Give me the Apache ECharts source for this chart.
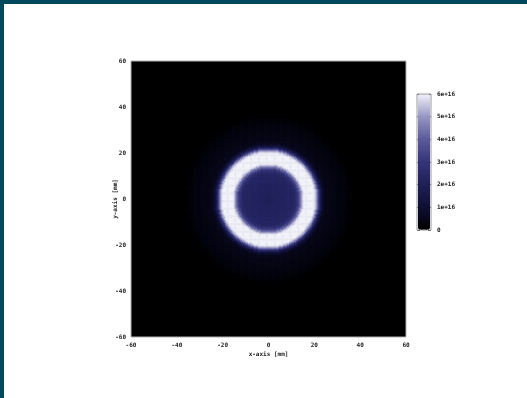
<!DOCTYPE html>
<html>
<head>
<meta charset="utf-8">
<script src="https://cdn.jsdelivr.net/npm/echarts@6/dist/echarts.min.js"></script>
<style>
html,body{margin:0;padding:0;background:#fff;}
#c{width:527px;height:398px;}
</style>
</head>
<body>
<div id="c"></div>
<script>
const profileStep = 0.5;
const radialProfile = [
  2.1, 2.1, 2.1, 2.1, 2.1, 2.15, 2.15, 2.2, 2.2, 2.2,
  2.2, 2.2, 2.2, 2.25, 2.25, 2.25, 2.3, 2.3, 2.3, 2.3,
  2.35, 2.35, 2.4, 2.45, 2.6, 2.8, 3.1, 3.6, 4.2, 4.9,
  5.5, 5.9, 6.2, 6.4, 6.5, 6.5, 6.5, 6.5, 6.4, 6.3,
  6.1, 5.8, 5.3, 4.5, 3.5, 2.5, 1.7, 1.2, 0.85, 0.65,
  0.55, 0.5, 0.5, 0.48, 0.45, 0.45, 0.44, 0.42, 0.4, 0.4,
  0.38, 0.36, 0.35, 0.33, 0.3, 0.3, 0.28, 0.26, 0.24, 0.2,
  0.17, 0.13, 0.1, 0.07, 0.05, 0.03, 0.02
];
const xTicks = [-60, -40, -20, 0, 20, 40, 60];
const yTicks = [-60, -40, -20, 0, 20, 40, 60];
const cbTicks = ['0', '1e+16', '2e+16', '3e+16', '4e+16', '5e+16', '6e+16'];
const cbColors = ['#000000', '#0f0f33', '#1f1f58', '#34347a', '#5a5a9c', '#9696c4', '#f2f2fa'];
const cellSize = 0.5; // mm
const range = 60;

// Build heatmap cells from the radial profile (nearest radius bin)
const cells = [];
const n = Math.round(2 * range / cellSize);
for (let i = 0; i < n; i++) {
  const x = -range + i * cellSize;
  for (let j = 0; j < n; j++) {
    const y = -range + j * cellSize;
    const cx = x + cellSize / 2, cy = y + cellSize / 2;
    const idx = Math.round(Math.sqrt(cx * cx + cy * cy) / profileStep);
    const v = idx < radialProfile.length ? radialProfile[idx] * 1e16 : 0;
    if (v > 0) cells.push([x, y, v]);
  }
}

const font = 'DejaVu Sans Mono';
const lab = {fontFamily: font, fontSize: 6, fontWeight: 'bold', color: '#222'};

const chart = echarts.init(document.getElementById('c'), null, {renderer: 'canvas'});
chart.setOption({
  backgroundColor: '#ffffff',
  animation: false,
  graphic: [
    {type: 'rect', left: 0, top: 0, shape: {width: 527, height: 4}, style: {fill: '#00485c'}, z: 100},
    {type: 'rect', left: 0, top: 0, shape: {width: 4, height: 398}, style: {fill: '#00485c'}, z: 100}
  ],
  grid: [
    {left: 131, top: 61, width: 275, height: 276, show: true, backgroundColor: '#000000', borderColor: '#b0b0b0', borderWidth: 1},
    {left: 417, top: 94, width: 14, height: 136, show: true, backgroundColor: 'transparent', borderColor: '#9a9a9a', borderWidth: 1, z: 10}
  ],
  xAxis: [
    {type: 'value', gridIndex: 0, min: xTicks[0], max: xTicks[xTicks.length - 1], interval: 20,
     axisLine: {show: false}, axisTick: {show: false}, splitLine: {show: false},
     axisLabel: Object.assign({margin: 5, formatter: v => String(v)}, lab),
     name: 'x-axis [mm]', nameLocation: 'middle', nameGap: 14, nameMoveOverlap: false, nameTextStyle: lab},
    {type: 'value', gridIndex: 1, min: 0, max: 1, show: false}
  ],
  yAxis: [
    {type: 'value', gridIndex: 0, min: yTicks[0], max: yTicks[yTicks.length - 1], interval: 20,
     axisLine: {show: false}, axisTick: {show: false}, splitLine: {show: false},
     axisLabel: Object.assign({margin: 5, formatter: v => String(v)}, lab),
     name: 'y-axis [mm]', nameLocation: 'middle', nameGap: 13, nameRotate: 90, nameMoveOverlap: false, nameTextStyle: lab},
    {type: 'value', gridIndex: 1, position: 'left', min: 0, max: 6e16, interval: 1e16,
     axisLine: {show: false}, splitLine: {show: false},
     axisTick: {show: true, inside: true, length: 3, lineStyle: {color: '#555', width: 1}},
     axisLabel: {show: false}},
    {type: 'value', gridIndex: 1, position: 'right', min: 0, max: 6e16, interval: 1e16,
     axisLine: {show: false}, splitLine: {show: false},
     axisTick: {show: true, inside: true, length: 3, lineStyle: {color: '#555', width: 1}},
     axisLabel: Object.assign({margin: 6, formatter: (v) => cbTicks[Math.round(v / 1e16)]}, lab)}
  ],
  visualMap: {
    type: 'continuous', seriesIndex: 0, min: 0, max: 6e16, dimension: 2,
    orient: 'vertical', left: 418, top: 94, itemWidth: 12, itemHeight: 136,
    padding: 0, text: null, calculable: false, showLabel: false, realtime: false,
    inRange: {color: cbColors}
  },
  series: [
    {
      type: 'custom', xAxisIndex: 0, yAxisIndex: 0,
      encode: {x: 0, y: 1},
      data: cells,
      renderItem: function (params, api) {
        const p = api.coord([api.value(0), api.value(1) + cellSize]);
        const s = api.size([cellSize, cellSize]);
        return {
          type: 'rect',
          shape: {x: p[0], y: p[1], width: s[0] + 0.5, height: s[1] + 0.5},
          style: {fill: api.visual('color')}
        };
      },
      clip: true,
      silent: true
    }
  ]
});
</script>
</body>
</html>
